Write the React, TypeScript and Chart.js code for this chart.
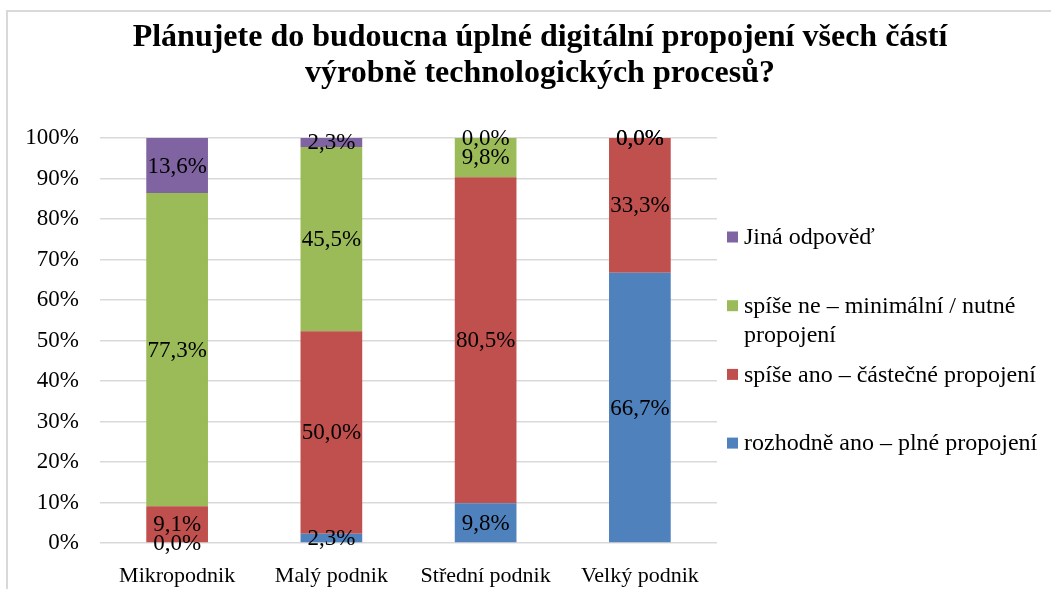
import React, { useEffect, useRef } from "react";
import { Chart, registerables } from "chart.js";

Chart.register(...registerables);

const categories = ["Mikropodnik", "Malý podnik", "Střední podnik", "Velký podnik"];
const seriesNames = [
  "rozhodně ano – plné propojení",
  "spíše ano – částečné propojení",
  "spíše ne – minimální / nutné propojení",
  "Jiná odpověď",
];
const rozhodneAno = [0.0, 2.3, 9.8, 66.7];
const spiseAno = [9.1, 50.0, 80.5, 33.3];
const spiseNe = [77.3, 45.5, 9.8, 0.0];
const jinaOdpoved = [13.6, 2.3, 0.0, 0.0];
const seriesColors = ["#4F81BD", "#C0504D", "#9BBB59", "#8064A2"];
const titleLines = [
  "Plánujete do budoucna úplné digitální propojení všech částí",
  "výrobně technologických procesů?",
];

const FONT = "'Liberation Serif', 'Times New Roman', serif";

const fmt = (v: number) => v.toFixed(1).replace(".", ",") + "%";

const framePlugin = {
  id: "frame",
  beforeDraw(chart: any) {
    const ctx = chart.ctx;
    ctx.save();
    ctx.strokeStyle = "#d9d9d9";
    ctx.lineWidth = 2;
    ctx.beginPath();
    ctx.moveTo(7, chart.height);
    ctx.lineTo(7, 11);
    ctx.lineTo(chart.width, 11);
    ctx.stroke();
    ctx.restore();
  },
};

const titlePlugin = {
  id: "customTitle",
  afterDraw(chart: any) {
    const ctx = chart.ctx;
    ctx.save();
    ctx.fillStyle = "#000";
    ctx.font = `bold 32px ${FONT}`;
    ctx.textAlign = "center";
    ctx.textBaseline = "alphabetic";
    titleLines.forEach((t, i) => ctx.fillText(t, 540, 46 + i * 36));
    ctx.restore();
  },
};

const labelPlugin = {
  id: "segLabels",
  afterDatasetsDraw(chart: any) {
    const ctx = chart.ctx;
    ctx.save();
    ctx.fillStyle = "#000";
    ctx.font = `23px ${FONT}`;
    ctx.textAlign = "center";
    ctx.textBaseline = "middle";
    chart.data.datasets.forEach((ds: any, di: number) => {
      const meta = chart.getDatasetMeta(di);
      meta.data.forEach((el: any, i: number) => {
        const y = Math.max((el.y + el.base) / 2, chart.chartArea.top);
        ctx.fillText(fmt(ds.data[i]), el.x, y + 1);
      });
    });
    ctx.restore();
  },
};

const legendPlugin = {
  id: "customLegend",
  afterDraw(chart: any) {
    const ctx = chart.ctx;
    const ds = chart.data.datasets.slice().reverse();
    ctx.save();
    ctx.font = `24px ${FONT}`;
    ctx.textAlign = "left";
    ctx.textBaseline = "middle";
    const maxW = 300;
    ds.forEach((d: any, i: number) => {
      const y = 237 + i * 68.7;
      ctx.fillStyle = d.backgroundColor;
      ctx.fillRect(727, y - 5.5, 11, 11);
      const words = String(d.label).split(" ");
      const lines: string[] = [];
      let cur = "";
      words.forEach((w) => {
        const test = cur ? cur + " " + w : w;
        if (ctx.measureText(test).width > maxW && cur) {
          lines.push(cur);
          cur = w;
        } else cur = test;
      });
      if (cur) lines.push(cur);
      ctx.fillStyle = "#000";
      lines.forEach((l, k) => ctx.fillText(l, 744, y + 1 + k * 29));
    });
    ctx.restore();
  },
};

export default function App() {
  const ref = useRef<HTMLCanvasElement | null>(null);
  useEffect(() => {
    if (!ref.current) return;
    const values = [rozhodneAno, spiseAno, spiseNe, jinaOdpoved];
    const chart = new Chart(ref.current, {
      type: "bar",
      data: {
        labels: categories,
        datasets: values.map((v, i) => ({
          label: seriesNames[i],
          data: v,
          backgroundColor: seriesColors[i],
          borderWidth: 0,
          barPercentage: 0.4,
          categoryPercentage: 1,
        })),
      },
      options: {
        animation: false,
        responsive: true,
        maintainAspectRatio: false,
        layout: { padding: { left: 0, right: 334, top: 138, bottom: 0 } },
        plugins: {
          legend: { display: false },
          title: { display: false },
          tooltip: { enabled: false },
        },
        scales: {
          x: {
            stacked: true,
            grid: { display: false },
            border: { display: false },
            ticks: { font: { family: FONT, size: 22 }, color: "#000", padding: 12 },
            afterFit: (s: any) => {
              s.height = 46;
            },
          },
          y: {
            stacked: true,
            min: 0,
            max: 100,
            grid: { color: "#d9d9d9", lineWidth: 1.5, drawTicks: false },
            border: { display: false },
            ticks: {
              stepSize: 10,
              font: { family: FONT, size: 23 },
              color: "#000",
              padding: 21,
              callback: (v: any) => v + "%",
            },
            afterFit: (s: any) => {
              s.width = 100;
            },
          },
        },
      },
      plugins: [framePlugin, labelPlugin, titlePlugin, legendPlugin],
    });
    return () => chart.destroy();
  }, []);
  return (
    <div style={{ position: "fixed", left: 0, top: 0, width: 1051, height: 589, background: "#fff" }}>
      <canvas ref={ref} />
    </div>
  );
}
